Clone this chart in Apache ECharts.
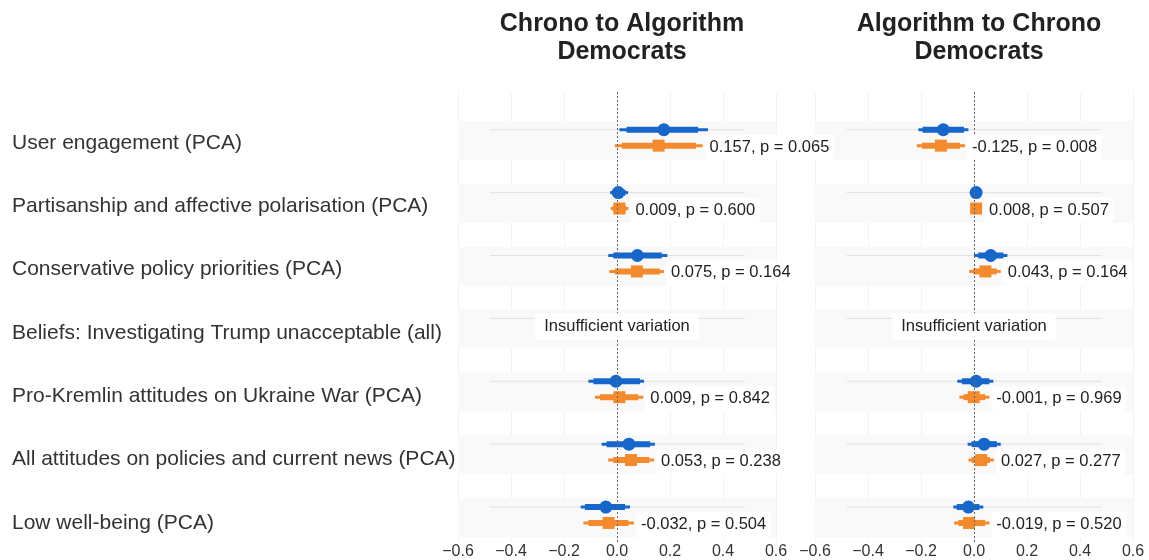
<!DOCTYPE html>
<html><head><meta charset="utf-8">
<script src="https://cdn.jsdelivr.net/npm/echarts@6/dist/echarts.min.js"></script>
<style>html,body{margin:0;padding:0;background:#fff}#c{width:1149px;height:560px}</style>
</head><body><div id="c"></div>
<script>
// ---------- data ----------
const categories = [
  'User engagement (PCA)',
  'Partisanship and affective polarisation (PCA)',
  'Conservative policy priorities (PCA)',
  'Beliefs: Investigating Trump unacceptable (all)',
  'Pro-Kremlin attitudes on Ukraine War (PCA)',
  'All attitudes on policies and current news (PCA)',
  'Low well-being (PCA)'
];
const panelTitles = ['Chrono to Algorithm\nDemocrats', 'Algorithm to Chrono\nDemocrats'];
const insufficientText = 'Insufficient variation';

// Panel 1: Chrono to Algorithm
const c2aBlueEst   = [0.177, 0.005, 0.077, null, -0.004, 0.045, -0.042];
const c2aBlueLo    = [0.009, -0.026, -0.033, null, -0.108, -0.058, -0.137];
const c2aBlueHi    = [0.343, 0.042, 0.190, null, 0.102, 0.143, 0.049];
const c2aBlueLoIn  = [0.036, -0.018, -0.014, null, -0.089, -0.039, -0.121];
const c2aBlueHiIn  = [0.306, 0.032, 0.169, null, 0.087, 0.125, 0.030];
const c2aOrEst     = [0.157, 0.009, 0.075, null, 0.009, 0.053, -0.032];
const c2aOrLo      = [-0.008, -0.024, -0.029, null, -0.083, -0.033, -0.127];
const c2aOrHi      = [0.323, 0.043, 0.177, null, 0.099, 0.140, 0.064];
const c2aOrLoIn    = [0.018, -0.016, -0.008, null, -0.064, -0.014, -0.108];
const c2aOrHiIn    = [0.298, 0.034, 0.162, null, 0.080, 0.122, 0.043];
const c2aP         = [0.065, 0.600, 0.164, null, 0.842, 0.238, 0.504];

// Panel 2: Algorithm to Chrono
const a2cBlueEst   = [-0.116, 0.008, 0.063, null, 0.008, 0.038, -0.021];
const a2cBlueLo    = [-0.210, 0.000, 0.000, null, -0.063, -0.024, -0.078];
const a2cBlueHi    = [-0.021, 0.016, 0.126, null, 0.073, 0.101, 0.035];
const a2cBlueLoIn  = [-0.194, 0.003, 0.016, null, -0.046, -0.009, -0.065];
const a2cBlueHiIn  = [-0.038, 0.013, 0.111, null, 0.058, 0.086, 0.020];
const a2cOrEst     = [-0.125, 0.008, 0.043, null, -0.001, 0.027, -0.019];
const a2cOrLo      = [-0.216, 0.000, -0.018, null, -0.055, -0.021, -0.075];
const a2cOrHi      = [-0.034, 0.016, 0.101, null, 0.058, 0.075, 0.058];
const a2cOrLoIn    = [-0.197, 0.003, -0.003, null, -0.040, -0.009, -0.059];
const a2cOrHiIn    = [-0.053, 0.013, 0.086, null, 0.042, 0.060, 0.042];
const a2cP         = [0.008, 0.507, 0.164, null, 0.969, 0.277, 0.520];

// ---------- styles ----------
const BLUE = '#1766c9', ORANGE = '#f38a2d';
const FONT = '"Liberation Sans", Arial, Helvetica, sans-serif';
const OR_OFF = 0.253;

const panels = [
  {b:[c2aBlueEst,c2aBlueLo,c2aBlueHi,c2aBlueLoIn,c2aBlueHiIn], o:[c2aOrEst,c2aOrLo,c2aOrHi,c2aOrLoIn,c2aOrHiIn], p:c2aP},
  {b:[a2cBlueEst,a2cBlueLo,a2cBlueHi,a2cBlueLoIn,a2cBlueHiIn], o:[a2cOrEst,a2cOrLo,a2cOrHi,a2cOrLoIn,a2cOrHiIn], p:a2cP}
];

function fmt(v){ return (v < 0 ? '-' : '') + Math.abs(v).toFixed(3); }

const grids = [
  {left: 458, width: 318, top: 92, height: 453},
  {left: 815, width: 318, top: 92, height: 453},
  {left: 458, width: 318, top: 111.35, height: 443.1}
];
const xAxes = [0,1].map(g => ({
  type:'value', gridIndex:g, min:-0.6, max:0.6, interval:0.2,
  axisLine:{show:false}, axisTick:{show:false},
  splitLine:{show:true, lineStyle:{color:'#f3f3f3', width:1}},
  axisLabel:{fontSize:16, color:'#333', fontFamily:FONT, margin:2,
    formatter: v => (v < -1e-9 ? '\u2212' : '') + Math.abs(v).toFixed(1)}
}));
xAxes.push({type:'value', gridIndex:2, show:false, min:-0.6, max:0.6});
const yAxes = [0,1].map(g => ({
  type:'value', gridIndex:g, min:-0.6, max:6.556, inverse:true,
  axisLine:{show:true, lineStyle:{color:'#e8e8e8', width:1}},
  axisTick:{show:false}, axisLabel:{show:false}, splitLine:{show:false}
}));
yAxes.push({type:'category', gridIndex:2, data:categories, inverse:true,
  axisLine:{show:false}, axisTick:{show:false}, splitLine:{show:false},
  axisLabel:{align:'left', margin:446, fontSize:21, color:'#333', fontFamily:FONT}});

const series = [];
panels.forEach((pn, g) => {
  const rows = categories.map((c, i) => [i]);
  // bands
  series.push({type:'custom', xAxisIndex:g, yAxisIndex:g, z:1, silent:true, clip:false,
    data: rows,
    renderItem:(params, api) => {
      const i = api.value(0);
      const a = api.coord([-0.6, i - 0.14]), b = api.coord([0.6, i + 0.48]);
      const l1 = api.coord([-0.48, i]), l2 = api.coord([0.48, i]);
      return {type:'group', children:[
        {type:'rect', shape:{x:a[0], y:a[1], width:b[0]-a[0], height:b[1]-a[1]}, style:{fill:'#f9f9f9'}},
        {type:'line', shape:{x1:l1[0], y1:l1[1], x2:l2[0], y2:l2[1]}, style:{stroke:'#e0e0e0', lineWidth:1}}
      ]};
    },
    markLine:{silent:true, symbol:'none', label:{show:false},
      lineStyle:{color:'#666', width:1, type:[2,2]}, data:[{xAxis:0}]}
  });
  // CI lines + markers
  [[pn.b, 0, BLUE], [pn.o, OR_OFF, ORANGE]].forEach(([arr, off, col]) => {
    const data = [];
    arr[0].forEach((e, i) => { if (e !== null) data.push([i, e, arr[1][i], arr[2][i], arr[3][i], arr[4][i]]); });
    series.push({type:'custom', xAxisIndex:g, yAxisIndex:g, z:3, silent:true, clip:false, data,
      renderItem:(params, api) => {
        const y = api.value(0) + off;
        const p1 = api.coord([api.value(2), y]), p2 = api.coord([api.value(3), y]);
        const q1 = api.coord([api.value(4), y]), q2 = api.coord([api.value(5), y]);
        return {type:'group', children:[
          {type:'line', shape:{x1:p1[0], y1:p1[1], x2:p2[0], y2:p2[1]}, style:{stroke:col, lineWidth:3}},
          {type:'line', shape:{x1:q1[0], y1:q1[1], x2:q2[0], y2:q2[1]}, style:{stroke:col, lineWidth:6}}
        ]};
      }});
    series.push({type:'scatter', xAxisIndex:g, yAxisIndex:g, z:4, silent:true,
      symbol: off ? 'rect' : 'circle', symbolSize: off ? 12 : 13,
      itemStyle:{color:col, opacity:1},
      data: data.map(d => [d[1], d[0] + off])});
  });
  // value labels
  const lab = [];
  pn.o[0].forEach((e, i) => { if (e !== null) lab.push([i, e, pn.o[2][i], fmt(e) + ', p = ' + pn.p[i].toFixed(3)]); });
  series.push({type:'custom', xAxisIndex:g, yAxisIndex:g, z:10, silent:true, clip:false, data: lab,
    dimensions:['row','est','hi','text'],
    renderItem:(params, api) => {
      const i = api.value(0);
      const d = lab[params.dataIndex];
      const ph = api.coord([d[2], i + OR_OFF]);
      const pe = api.coord([d[1], i + OR_OFF]);
      const x = Math.max(ph[0], pe[0] + 6) + 2;
      return {type:'text', x:x, y:ph[1] + 1.5, z2:10,
        style:{text:d[3], fill:'#222', font:'16.5px ' + FONT, align:'left', verticalAlign:'middle',
          backgroundColor:'rgba(255,255,255,0.92)', padding:[4,5,4,5], borderRadius:4}};
    }});
  // insufficient variation
  const ins = [];
  pn.o[0].forEach((e, i) => { if (e === null) ins.push([i]); });
  series.push({type:'custom', xAxisIndex:g, yAxisIndex:g, z:10, silent:true, clip:false, data: ins,
    renderItem:(params, api) => {
      const p = api.coord([0, api.value(0) + 0.13]);
      return {type:'text', x:p[0], y:p[1], style:{text:insufficientText, fill:'#222', font:'16.5px ' + FONT,
        align:'center', verticalAlign:'middle', backgroundColor:'rgba(255,255,255,0.95)', padding:[5,9,5,9], borderRadius:4}};
    }});
});

const chart = echarts.init(document.getElementById('c'), null, {renderer:'canvas'});
chart.setOption({
  animation:false,
  backgroundColor:'#fff',
  title: panelTitles.map((t, k) => ({text:t, left: k === 0 ? 617 : 974, top:5, textAlign:'center',
    textStyle:{fontSize:25, fontWeight:'bold', color:'#222', fontFamily:FONT, lineHeight:28}})),
  grid: grids,
  xAxis: xAxes,
  yAxis: yAxes,
  series
});
</script></body></html>
